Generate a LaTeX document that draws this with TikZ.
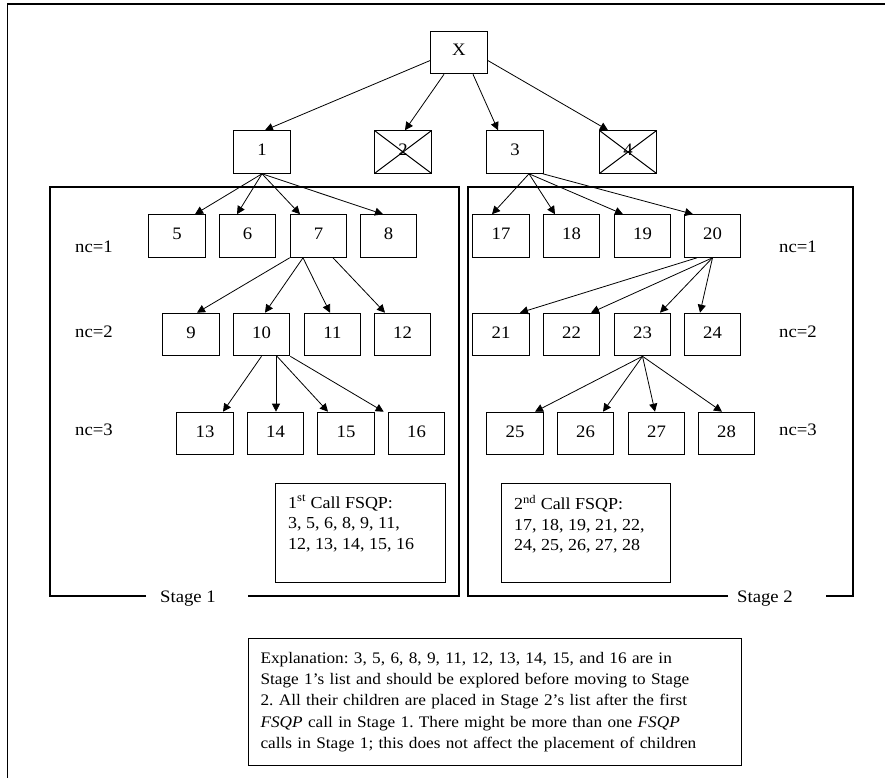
\documentclass[tikz,border=0pt]{standalone}
\usepackage{fontspec}
\setmainfont{Liberation Serif}[FakeStretch=1.07]
\usetikzlibrary{arrows.meta}
\frenchspacing
\begin{document}
\begin{tikzpicture}[x=1pt,y=-1pt,
  every node/.style={font=\fontsize{17.5}{21}\selectfont},
  bx/.style={draw, line width=1.1pt, minimum width=56.5pt, minimum height=42.5pt, inner sep=0pt, text height=12pt, text depth=5pt},
  xbx/.style={bx, path picture={\draw[line width=1pt] (path picture bounding box.north west) -- (path picture bounding box.south east) (path picture bounding box.north east) -- (path picture bounding box.south west);}},
  arr/.style={-{Triangle[length=8pt,width=8pt]}, line width=0.8pt},
  stg/.style={line width=1.4pt},
  lbl/.style={inner sep=0pt},
  calltxt/.style={lbl, anchor=north west, align=left, font=\fontsize{16.8}{20.5}\selectfont}]
\useasboundingbox (0,0) rectangle (885,778);
% outer frame
\draw[stg] (7.5,778) -- (7.5,4) -- (885,4);
% top level
\node[bx] (X) at (459,52.5) {X};
\node[bx] (n1) at (262,152) {1};
\node[xbx] (n2) at (403,152) {2};
\node[bx] (n3) at (515,152) {3};
\node[xbx] (n4) at (628,152) {4};
% row 1
\node[bx] (n5) at (177,236) {5};
\node[bx] (n6) at (247.5,236) {6};
\node[bx] (n7) at (318.5,236) {7};
\node[bx] (n8) at (388.5,236) {8};
\node[bx] (n17) at (501,236) {17};
\node[bx] (n18) at (571.5,236) {18};
\node[bx] (n19) at (642.5,236) {19};
\node[bx] (n20) at (712.5,236) {20};
% row 2
\node[bx] (n9) at (191,334.5) {9};
\node[bx] (n10) at (261.5,334.5) {10};
\node[bx] (n11) at (332.5,334.5) {11};
\node[bx] (n12) at (402.5,334.5) {12};
\node[bx] (n21) at (501,334.5) {21};
\node[bx] (n22) at (571.5,334.5) {22};
\node[bx] (n23) at (642.5,334.5) {23};
\node[bx] (n24) at (712.5,334.5) {24};
% row 3
\node[bx] (n13) at (205,433.5) {13};
\node[bx] (n14) at (275.5,433.5) {14};
\node[bx] (n15) at (346,433.5) {15};
\node[bx] (n16) at (416.5,433.5) {16};
\node[bx] (n25) at (515,433.5) {25};
\node[bx] (n26) at (585.5,433.5) {26};
\node[bx] (n27) at (656.5,433.5) {27};
\node[bx] (n28) at (726.5,433.5) {28};
% nc labels
\node[lbl] (ncl1) at (94,247) {nc=1};
\node[lbl] (ncl2) at (94,332) {nc=2};
\node[lbl] (ncl3) at (94,430) {nc=3};
\node[lbl] (ncr1) at (798,247) {nc=1};
\node[lbl] (ncr2) at (798,332) {nc=2};
\node[lbl] (ncr3) at (798,430) {nc=3};
% arrows from X
\draw[arr] ([yshift=-8]X.west) -- ([xshift=3]n1.north);
\draw[arr] ([xshift=-15]X.south) -- ([xshift=2]n2.north);
\draw[arr] ([xshift=14]X.south) -- ([xshift=-17]n3.north);
\draw[arr] ([yshift=-8]X.east) -- ([xshift=-20]n4.north);
% arrows from 1
\draw[arr] (n1.south) -- ([xshift=18]n5.north);
\draw[arr] (n1.south) -- ([xshift=-10.5]n6.north);
\draw[arr] (n1.south) -- ([xshift=-18.5]n7.north);
\draw[arr] (n1.south) -- ([xshift=-5.5]n8.north);
% arrows from 3
\draw[arr] ([xshift=14]n3.south) -- ([xshift=-9]n17.north);
\draw[arr] ([xshift=14]n3.south) -- ([xshift=-16.5]n18.north);
\draw[arr] ([xshift=14]n3.south) -- ([xshift=-19.5]n19.north);
\draw[arr] ([xshift=-1]n3.south east) -- ([xshift=-19.5]n20.north);
% arrows from 7
\draw[arr] (n7.south west) -- ([xshift=6]n9.north);
\draw[arr] ([xshift=-15.5]n7.south) -- ([xshift=3.5]n10.north);
\draw[arr] ([xshift=-15.5]n7.south) -- ([xshift=-2.5]n11.north);
\draw[arr] ([xshift=14.5]n7.south) -- ([xshift=-17.5]n12.north);
% arrows from 10
\draw[arr] (n10.south) -- ([xshift=18]n13.north);
\draw[arr] ([xshift=14.5]n10.south) -- ([xshift=0.5]n14.north);
\draw[arr] ([xshift=15.5]n10.south) -- ([xshift=-18]n15.north);
\draw[arr] (n10.south east) -- ([xshift=-4]n16.north west);
% arrows from 20
\draw[arr] ([xshift=-15.5]n20.south) -- ([xshift=19]n21.north);
\draw[arr] (n20.south) -- ([xshift=19.5]n22.north);
\draw[arr] (n20.south) -- ([xshift=17.5]n23.north);
\draw[arr] (n20.south) -- ([xshift=-12.5]n24.north);
% arrows from 23
\draw[arr] (n23.south) -- ([xshift=20]n25.north);
\draw[arr] (n23.south) -- ([xshift=17.5]n26.north);
\draw[arr] (n23.south) -- ([xshift=-1.5]n27.north);
\draw[arr] (n23.south) -- ([xshift=-4.5]n28.north);
% stage boxes
\node[lbl] (st1) at (188,599) {Stage 1};
\node[lbl] (st2) at (765,599) {Stage 2};
\draw[stg] (146,596) -- (50,596) -- (50,187) -- (459,187) -- (459,596) -- (248,596);
\draw[stg] (728,596) -- (468,596) -- (468,187) -- (853,187) -- (853,596) -- (826,596);
% FSQP call boxes
\node[draw, line width=1.1pt, anchor=north west, minimum width=170pt, minimum height=99pt, inner sep=0pt] (c1box) at (275,483) {};
\node[calltxt] (c1txt) at (288,495) {1\textsuperscript{st} Call FSQP:\\3, 5, 6, 8, 9, 11,\\12, 13, 14, 15, 16};
\node[draw, line width=1.1pt, anchor=north west, minimum width=169pt, minimum height=99pt, inner sep=0pt] (c2box) at (501,483) {};
\node[calltxt] (c2txt) at (514,495) {2\textsuperscript{nd} Call FSQP:\\17, 18, 19, 21, 22,\\24, 25, 26, 27, 28};
% explanation
\node[draw, line width=1.1pt, anchor=north west, minimum height=127pt, text width=469pt, inner xsep=12pt, align=left, font=\fontsize{16.1}{21.2}\selectfont] (expl) at (248,638) {Explanation: 3, 5, 6, 8, 9, 11, 12, 13, 14, 15, and 16 are in\\Stage 1’s list and should be explored before moving to Stage\\2. All their children are placed in Stage 2’s list after the first\\\textit{FSQP} call in Stage 1. There might be more than one \textit{FSQP}\\calls in Stage 1; this does not affect the placement of children};
\end{tikzpicture}
\end{document}
